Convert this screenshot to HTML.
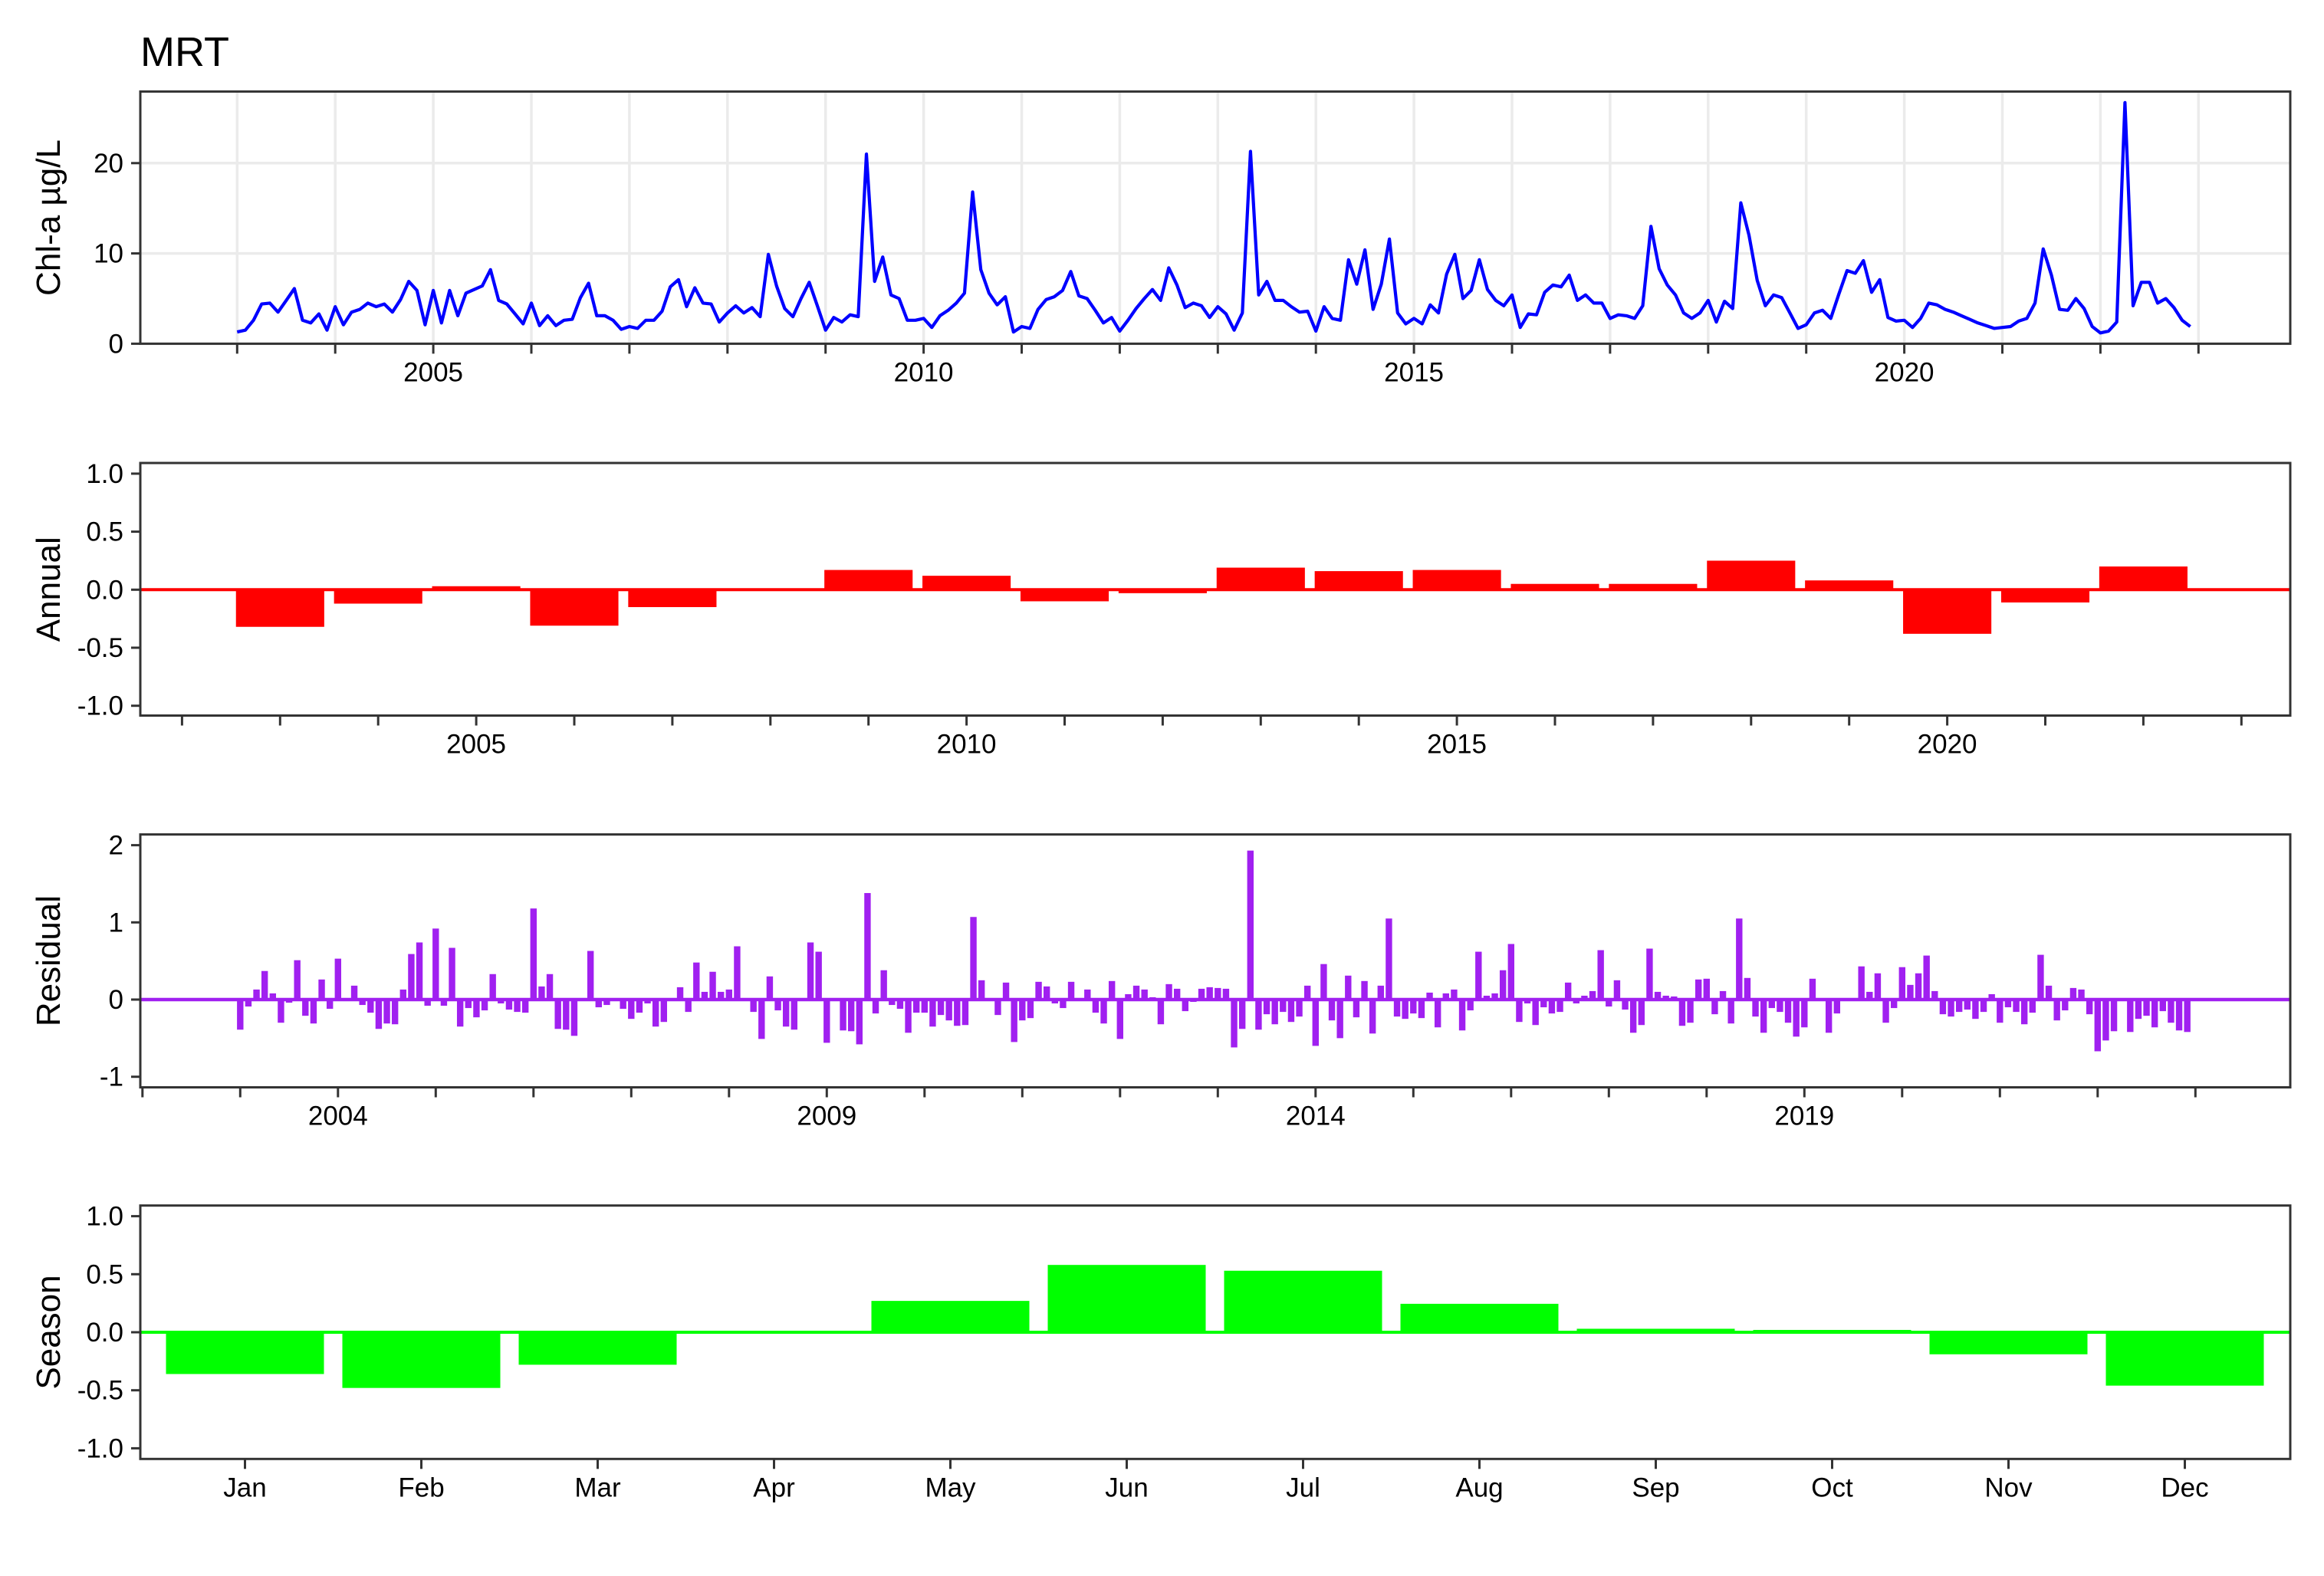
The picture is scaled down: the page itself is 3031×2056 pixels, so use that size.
<!DOCTYPE html>
<html><head><meta charset="utf-8"><title>MRT decomposition</title>
<style>html,body{margin:0;padding:0;background:#fff}svg{display:block}text{font-family:"Liberation Sans",Arial,sans-serif;fill:#000}</style>
</head><body>
<svg id="chart" xmlns="http://www.w3.org/2000/svg" width="3031" height="2056" viewBox="0 0 3031 2056">
<rect x="0" y="0" width="3031" height="2056" fill="#fff"/>
<text x="183" y="86" font-size="54">MRT</text>
</svg>
<script>
const startYear = 2003;
const chlValues = [1.3,1.5,2.6,4.4,4.5,3.5,4.8,6.1,2.6,2.3,3.3,1.5,4.1,2.1,3.5,3.8,4.5,4.1,4.4,3.5,4.9,6.9,5.9,2.1,5.9,2.3,5.9,3.1,5.6,6.0,6.4,8.2,4.8,4.4,3.3,2.2,4.5,2.0,3.1,2.0,2.6,2.7,5.1,6.7,3.1,3.1,2.6,1.6,1.9,1.7,2.6,2.6,3.6,6.3,7.1,4.1,6.2,4.5,4.4,2.4,3.4,4.2,3.4,4.0,
3.0,9.9,6.4,3.9,3.0,5.0,6.8,4.2,1.5,2.9,2.4,3.2,3.0,21.0,6.9,9.6,5.4,5.0,2.6,2.6,2.8,1.8,3.1,3.7,4.5,5.6,16.8,8.2,5.6,4.3,5.2,1.3,1.9,1.7,3.8,4.9,5.2,5.9,8.0,5.3,5.0,3.7,2.3,2.9,1.4,2.6,3.9,5.0,6.0,4.8,8.4,6.5,4.0,4.5,4.2,2.9,4.1,3.3,1.5,3.4,21.3,
5.4,6.9,4.8,4.8,4.1,3.5,3.6,1.4,4.1,2.8,2.6,9.3,6.6,10.4,3.8,6.6,11.6,3.4,2.2,2.8,2.2,4.3,3.4,7.7,9.9,5.0,5.9,9.3,6.0,4.8,4.2,5.4,1.8,3.3,3.2,5.7,6.5,6.3,7.6,4.8,5.4,4.5,4.5,2.8,3.2,3.1,2.8,4.2,13.0,8.3,6.5,5.4,3.4,2.8,3.4,4.8,2.4,4.7,3.9,15.6,12.0,7.0,
4.2,5.4,5.1,3.4,1.7,2.1,3.4,3.7,2.8,5.5,8.1,7.8,9.2,5.7,7.1,2.9,2.5,2.6,1.8,2.8,4.5,4.3,3.8,3.5,3.1,2.7,2.3,2.0,1.7,1.8,1.9,2.5,2.8,4.5,10.5,7.6,3.8,3.7,5.0,3.9,1.9,1.2,1.4,2.4,26.7,4.2,6.8,6.8,4.5,5.0,4.0,2.6,1.9];
const annualYears = [2003,2004,2005,2006,2007,2008,2009,2010,2011,2012,2013,2014,2015,2016,2017,2018,2019,2020,2021,2022];
const annualValues = [-0.32,-0.12,0.03,-0.31,-0.15,0.01,0.17,0.12,-0.10,-0.03,0.19,0.16,0.17,0.05,0.05,0.25,0.08,-0.38,-0.11,0.20];
const residualValues = [-0.39,-0.09,0.13,0.37,0.08,-0.30,-0.04,0.51,-0.21,-0.31,0.26,-0.12,0.53,-0.02,0.18,-0.07,-0.17,-0.38,-0.31,-0.32,0.13,0.59,0.74,-0.08,0.92,-0.08,0.67,-0.35,-0.11,-0.23,-0.14,0.33,-0.05,-0.13,-0.16,-0.17,1.18,0.17,0.33,-0.38,-0.39,-0.47,0,0.63,-0.10,-0.07,0,-0.12,-0.25,-0.17,-0.05,-0.35,-0.29,0,0.16,-0.16,0.48,0.10,0.36,0.10,
0.13,0.69,0,-0.16,-0.51,0.30,-0.14,-0.35,-0.39,0,0.74,0.62,-0.56,0.01,-0.40,-0.41,-0.58,1.38,-0.18,0.38,-0.07,-0.12,-0.43,-0.17,-0.17,-0.35,-0.20,-0.27,-0.34,-0.33,1.07,0.25,0.02,-0.20,0.22,-0.55,-0.27,-0.24,0.23,0.17,-0.05,-0.11,0.23,0,0.13,-0.17,-0.31,0.24,-0.51,0.07,0.18,0.13,0.03,-0.32,0.20,0.14,-0.15,-0.03,0.14,0.16,0.15,
0.14,-0.62,-0.38,1.93,-0.39,-0.19,-0.32,-0.16,-0.29,-0.22,0.18,-0.60,0.46,-0.27,-0.50,0.31,-0.23,0.24,-0.44,0.18,1.05,-0.22,-0.25,-0.18,-0.24,0.09,-0.36,0.08,0.13,-0.40,-0.14,0.62,0.05,0.08,0.38,0.72,-0.29,-0.05,-0.33,-0.10,-0.18,-0.16,0.22,-0.05,0.05,0.11,0.64,-0.09,0.25,-0.13,-0.43,-0.33,0.66,0.10,0.05,0.04,-0.34,-0.30,0.26,0.27,-0.19,
0.11,-0.31,1.05,0.28,-0.22,-0.43,-0.11,-0.16,-0.30,-0.48,-0.36,0.27,0,-0.43,-0.18,0,0,0.43,0.10,0.34,-0.30,-0.11,0.42,0.19,0.34,0.57,0.11,-0.19,-0.22,-0.16,-0.13,-0.25,-0.16,0.07,-0.30,-0.10,-0.16,-0.32,-0.17,0.58,0.18,-0.27,-0.14,0.15,0.13,-0.19,-0.67,-0.53,-0.41,0,-0.42,-0.25,-0.21,-0.36,-0.15,-0.30,-0.40,-0.42];
const months = ["Jan","Feb","Mar","Apr","May","Jun","Jul","Aug","Sep","Oct","Nov","Dec"];
const seasonValues = [-0.36,-0.48,-0.28,-0.01,0.27,0.58,0.53,0.245,0.03,0.02,-0.19,-0.46];
const chlTicks = [0,10,20];
const annualTicks = [1.0,0.5,0.0,-0.5,-1.0];
const annualTickLabels = ["1.0","0.5","0.0","-0.5","-1.0"];
const residualTicks = [2,1,0,-1];
const seasonTicks = [1.0,0.5,0.0,-0.5,-1.0];
const seasonTickLabels = ["1.0","0.5","0.0","-0.5","-1.0"];
const p1YearLabels = [2005,2010,2015,2020];
const p2YearLabels = [2005,2010,2015,2020];
const p3YearLabels = [2004,2009,2014,2019];

const svg = document.getElementById('chart');
const NS = 'http://www.w3.org/2000/svg';
function mk(tag, attrs, parent){const e=document.createElementNS(NS,tag);for(const k in attrs)e.setAttribute(k,attrs[k]);(parent||svg).appendChild(e);return e;}
const L=183,R=2987,AX='#333333';
function frame(top,bottom,name){
  const r=mk('rect',{x:L,y:top,width:R-L,height:bottom-top,fill:'none',stroke:AX,'stroke-width':3});
  
  
}
function yAxis(ticks,labels,yf,name){
  ticks.forEach((t,i)=>{
    const y=yf(t);
    const l=mk('line',{x1:L-12,x2:L,y1:y,y2:y,stroke:AX,'stroke-width':3});
    
    
    const tx=mk('text',{x:L-22,y:y+12,'font-size':35,'text-anchor':'end'});
    tx.textContent=labels[i];
    
    
  });
}
function yTitle(text,cy,name){
  const t=mk('text',{x:0,y:0,'font-size':44,'text-anchor':'middle',transform:'translate(78,'+cy+') rotate(-90)'});
  t.textContent=text;
  
  
}
function xYearAxis(xf,y0,y1,bottom,labels,name){
  for(let yr=y0;yr<=y1;yr++){
    const x=xf(yr);
    const l=mk('line',{x1:x,x2:x,y1:bottom,y2:bottom+13,stroke:AX,'stroke-width':3});
    
    
  }
  labels.forEach(yr=>{
    const t=mk('text',{x:xf(yr),y:bottom+49,'font-size':35,'text-anchor':'middle'});
    t.textContent=yr;
    
    
  });
}

// Panel 1: Chl-a line
const P1T=119.4,P1B=448.4;
const x1=y=>309.3+127.9*(y-2003);
const y1=v=>P1B-v*11.78;
for(let yr=2003;yr<=2023;yr++){
  const g=mk('line',{x1:x1(yr),x2:x1(yr),y1:P1T,y2:P1B,stroke:'#EBEBEB','stroke-width':3.5});
  
  
}
chlTicks.forEach(t=>{
  const g=mk('line',{x1:L,x2:R,y1:y1(t),y2:y1(t),stroke:'#EBEBEB','stroke-width':3.5});
  
  
});
const pts=chlValues.map((v,i)=>x1(startYear+i/12).toFixed(1)+','+y1(v).toFixed(1)).join(' ');
const line=mk('polyline',{points:pts,fill:'none',stroke:'#0000FF','stroke-width':4.2,'stroke-linejoin':'round'});


frame(P1T,P1B,'chl-panel');
yAxis(chlTicks,chlTicks.map(String),y1,'chl');
xYearAxis(x1,2003,2023,P1B,p1YearLabels,'chl');
yTitle('Chl-a µg/L',284,'chl-y-axis-title');

// Panel 2: Annual
const P2T=604,P2B=933.5;
const x2=y=>365.3+127.9*(y-2003);
const y2=v=>769.3-v*151.4;
annualValues.forEach((v,i)=>{
  const xc=x2(annualYears[i]),w=0.9*127.9;
  const b=mk('rect',{x:xc-w/2,y:Math.min(y2(v),y2(0)),width:w,height:Math.abs(y2(v)-y2(0)),fill:'#FF0000'});
  
  
});
const z2=mk('line',{x1:L,x2:R,y1:y2(0),y2:y2(0),stroke:'#FF0000','stroke-width':4});


frame(P2T,P2B,'annual-panel');
yAxis(annualTicks,annualTickLabels,y2,'annual');
xYearAxis(x2,2002,2023,P2B,p2YearLabels,'annual');
yTitle('Annual',(P2T+P2B)/2,'annual-y-axis-title');

// Panel 3: Residual
const P3T=1088.6,P3B=1418.5;
const x3=y=>313.3+127.5*(y-2003);
const y3=v=>1304-v*100.7;
residualValues.forEach((v,i)=>{
  const xc=x3(startYear+i/12),w=8.4;
  const b=mk('rect',{x:xc-w/2,y:Math.min(y3(v),y3(0)),width:w,height:Math.abs(y3(v)-y3(0)),fill:'#A020F0'});
  
  
});
const z3=mk('line',{x1:L,x2:R,y1:y3(0),y2:y3(0),stroke:'#A020F0','stroke-width':4.5});


frame(P3T,P3B,'residual-panel');
yAxis(residualTicks,residualTicks.map(String),y3,'residual');
xYearAxis(x3,2002,2023,P3B,p3YearLabels,'residual');
yTitle('Residual',(P3T+P3B)/2,'residual-y-axis-title');

// Panel 4: Season
const P4T=1572.7,P4B=1903.3;
const x4=i=>319.5+230*i;
const y4=v=>1738-v*151.4;
seasonValues.forEach((v,i)=>{
  const w=206;
  const b=mk('rect',{x:x4(i)-w/2,y:Math.min(y4(v),y4(0)),width:w,height:Math.max(Math.abs(y4(v)-y4(0)),0.5),fill:'#00FF00'});
  
  
});
const z4=mk('line',{x1:L,x2:R,y1:y4(0),y2:y4(0),stroke:'#00FF00','stroke-width':4});


frame(P4T,P4B,'season-panel');
yAxis(seasonTicks,seasonTickLabels,y4,'season');
months.forEach((m,i)=>{
  const l=mk('line',{x1:x4(i),x2:x4(i),y1:P4B,y2:P4B+13,stroke:AX,'stroke-width':3});
  
  
  const t=mk('text',{x:x4(i),y:P4B+49,'font-size':35,'text-anchor':'middle'});
  t.textContent=m;
  
  
});
yTitle('Season',(P4T+P4B)/2,'season-y-axis-title');
</script>
</body></html>
